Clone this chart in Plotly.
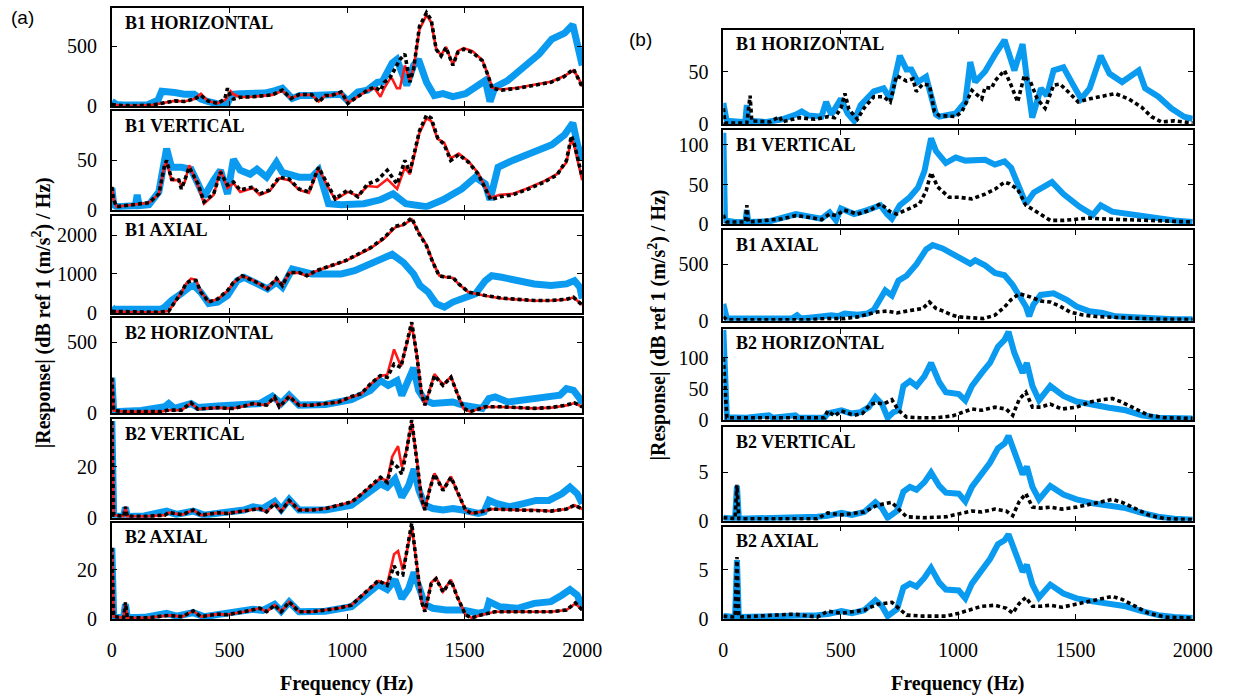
import plotly.graph_objects as go

# ---------------- (a) left column: measured (blue), model (red), model (black dotted)
L1_blue_f = [0, 20, 50, 100, 150, 196, 212, 267, 308, 350, 379, 408, 450, 492, 510, 546, 600, 650, 694, 725, 767, 800, 850, 900, 950, 975, 1004, 1046, 1087, 1129, 1150, 1171, 1192, 1212, 1254, 1283, 1304, 1338, 1371, 1408, 1450, 1504, 1546, 1588, 1608, 1629, 1683, 1750, 1817, 1871, 1925, 1960, 1975, 2000]
L1_blue_v = [40, 15, 10, 10, 12, 50, 125, 115, 100, 100, 60, 40, 20, 25, 100, 105, 105, 110, 130, 150, 65, 90, 90, 90, 95, 100, 45, 120, 135, 200, 205, 300, 360, 390, 175, 340, 390, 200, 90, 105, 80, 105, 160, 215, 40, 160, 215, 325, 435, 560, 610, 680, 560, 340]
L1_f = [0, 40, 100, 171, 212, 267, 308, 350, 379, 408, 450, 480, 492, 505, 517, 546, 600, 650, 683, 725, 762, 796, 850, 879, 908, 933, 975, 1004, 1046, 1087, 1117, 1142, 1158, 1183, 1192, 1212, 1225, 1246, 1267, 1283, 1308, 1338, 1358, 1379, 1400, 1421, 1450, 1471, 1496, 1533, 1575, 1600, 1617, 1658, 1725, 1796, 1867, 1921, 1963, 1983, 2000]
L1_red_v = [15, 6, 5, 10, 25, 45, 40, 60, 105, 45, 25, 50, 80, 125, 100, 75, 80, 90, 95, 130, 65, 95, 95, 40, 90, 90, 115, 30, 80, 130, 150, 80, 150, 230, 230, 150, 150, 340, 210, 320, 640, 760, 700, 480, 425, 495, 345, 460, 485, 460, 385, 260, 155, 140, 155, 180, 205, 250, 300, 240, 165]
L1_black_v = [15, 6, 5, 10, 25, 45, 40, 60, 90, 45, 25, 60, 150, 80, 60, 75, 80, 90, 95, 135, 65, 98, 98, 35, 90, 90, 120, 25, 80, 135, 160, 130, 200, 240, 270, 340, 390, 435, 200, 310, 665, 780, 720, 475, 420, 490, 340, 450, 475, 450, 380, 255, 150, 135, 150, 175, 200, 245, 310, 230, 160]

L2_blue_f = [0, 8, 20, 100, 108, 116, 158, 200, 233, 254, 296, 337, 367, 392, 433, 462, 492, 517, 546, 588, 617, 658, 700, 725, 796, 850, 879, 900, 921, 975, 1071, 1142, 1196, 1250, 1338, 1408, 1488, 1546, 1588, 1608, 1642, 1704, 1788, 1871, 1925, 1960, 1980, 2000]
L2_blue_v = [22, 5, 3, 4, 15, 4, 5, 18, 62, 43, 43, 41, 26, 13, 30, 40, 16, 51, 40, 36, 41, 33, 48, 38, 33, 33, 40, 20, 6, 5, 6, 10, 16, 6, 3, 10, 21, 33, 26, 10, 43, 50, 58, 66, 76, 88, 66, 50]
L2_f = [0, 8, 20, 100, 158, 200, 225, 233, 254, 285, 296, 310, 329, 367, 392, 433, 462, 492, 517, 546, 600, 629, 671, 712, 754, 796, 838, 879, 921, 950, 1004, 1046, 1087, 1129, 1171, 1213, 1246, 1267, 1308, 1338, 1358, 1385, 1413, 1441, 1475, 1517, 1558, 1583, 1611, 1650, 1704, 1771, 1838, 1892, 1933, 1954, 1967, 2000]
L2_red_v = [23, 10, 3, 5, 7, 16, 45, 48, 30, 30, 24, 28, 45, 24, 6, 15, 40, 22, 27, 18, 22, 15, 19, 32, 30, 20, 17, 42, 22, 10, 18, 14, 24, 23, 31, 21, 43, 36, 78, 93, 90, 72, 68, 52, 57, 49, 37, 25, 12, 15, 16, 22, 29, 36, 48, 72, 64, 30]
L2_black_v = [23, 10, 3, 5, 7, 16, 46, 50, 31, 30, 21, 30, 43, 26, 8, 16, 38, 25, 28, 20, 23, 16, 20, 33, 31, 21, 18, 43, 23, 11, 20, 13, 26, 30, 40, 26, 50, 38, 80, 96, 93, 73, 66, 50, 56, 48, 36, 23, 10, 13, 15, 21, 28, 35, 50, 75, 66, 33]

L3_blue_f = [0, 8, 100, 208, 225, 254, 296, 329, 350, 379, 412, 450, 492, 533, 562, 600, 662, 700, 725, 767, 808, 850, 908, 975, 1032, 1100, 1158, 1192, 1240, 1283, 1310, 1345, 1379, 1414, 1450, 1492, 1546, 1588, 1615, 1658, 1725, 1796, 1867, 1933, 1967, 1990, 2000]
L3_blue_v = [150, 95, 95, 95, 150, 320, 500, 660, 700, 525, 245, 280, 450, 830, 915, 790, 620, 790, 660, 1125, 1085, 1000, 1000, 1000, 1085, 1255, 1420, 1505, 1295, 1000, 705, 535, 240, 150, 280, 365, 490, 830, 955, 915, 830, 745, 705, 745, 830, 660, 370]
L3_f = [0, 100, 200, 242, 267, 296, 317, 337, 358, 379, 412, 450, 492, 517, 554, 587, 629, 662, 700, 725, 754, 796, 829, 867, 908, 950, 992, 1033, 1100, 1158, 1204, 1240, 1275, 1304, 1338, 1365, 1392, 1421, 1450, 1475, 1517, 1588, 1658, 1725, 1796, 1867, 1933, 1963, 1983, 2000]
L3_red_v = [40, 20, 20, 50, 270, 520, 760, 880, 850, 540, 285, 350, 570, 770, 950, 880, 740, 610, 880, 700, 1030, 1030, 950, 1070, 1160, 1250, 1330, 1450, 1660, 1910, 2190, 2260, 2400, 2080, 1740, 1310, 960, 920, 900, 740, 530, 440, 370, 345, 315, 320, 345, 400, 290, 210]
L3_black_v = [40, 20, 20, 50, 280, 530, 770, 830, 830, 530, 280, 360, 575, 780, 955, 870, 750, 620, 890, 700, 1040, 1040, 955, 1080, 1170, 1260, 1340, 1465, 1675, 1930, 2225, 2270, 2440, 2055, 1720, 1295, 955, 915, 915, 745, 535, 450, 380, 350, 320, 320, 350, 405, 280, 200]

L4_blue_f = [0, 8, 125, 225, 242, 267, 337, 365, 450, 517, 575, 629, 683, 720, 754, 796, 908, 1019, 1100, 1142, 1175, 1213, 1233, 1262, 1283, 1304, 1331, 1365, 1408, 1450, 1492, 1546, 1575, 1603, 1630, 1683, 1738, 1796, 1850, 1905, 1933, 1963, 1990, 2000]
L4_blue_v = [250, 12, 20, 46, 69, 35, 69, 41, 51, 58, 74, 69, 120, 69, 127, 58, 62, 97, 161, 230, 196, 230, 126, 230, 320, 161, 92, 69, 69, 80, 58, 41, 35, 104, 115, 80, 92, 115, 115, 127, 173, 161, 104, 69]
L4_f = [0, 8, 50, 150, 208, 242, 296, 337, 365, 408, 450, 492, 517, 562, 600, 658, 692, 712, 754, 796, 850, 908, 963, 1019, 1060, 1100, 1142, 1171, 1200, 1229, 1254, 1275, 1296, 1317, 1331, 1352, 1372, 1408, 1442, 1469, 1496, 1524, 1588, 1658, 1725, 1796, 1867, 1933, 1967, 2000]
L4_red_v = [250, 20, 12, 12, 12, 22, 23, 72, 30, 35, 40, 35, 36, 50, 68, 57, 112, 46, 120, 57, 57, 68, 78, 115, 136, 205, 262, 270, 449, 330, 480, 620, 420, 140, 55, 165, 275, 200, 258, 140, 33, 12, 45, 45, 40, 35, 40, 56, 72, 45]
L4_black_v = [250, 20, 12, 12, 12, 23, 23, 74, 30, 35, 41, 35, 35, 51, 69, 58, 115, 46, 118, 58, 58, 69, 80, 118, 138, 207, 265, 253, 346, 323, 484, 640, 415, 138, 58, 161, 265, 196, 253, 138, 35, 12, 46, 46, 41, 35, 41, 58, 74, 46]

L5_blue_f = [0, 8, 50, 58, 66, 138, 233, 275, 346, 392, 462, 562, 600, 642, 692, 720, 754, 796, 908, 1019, 1046, 1100, 1142, 1171, 1204, 1233, 1262, 1285, 1306, 1331, 1365, 1408, 1450, 1492, 1558, 1583, 1604, 1638, 1692, 1750, 1804, 1858, 1913, 1948, 1979, 2000]
L5_blue_v = [38, 0.7, 0.5, 4, 0.5, 0.7, 2.6, 1.3, 2.6, 1, 1.9, 3, 4.3, 3.6, 6.4, 3.2, 7.2, 3, 3, 4.9, 6.8, 10.7, 13.3, 12, 15.2, 8.1, 12.6, 19.1, 10.7, 4.9, 3.6, 3, 3.6, 3, 1.7, 2.3, 6.8, 5.5, 4.3, 5.5, 6.8, 6.8, 9.4, 12, 9.4, 5.5]
L5_f = [0, 8, 50, 58, 66, 150, 225, 242, 300, 346, 379, 450, 492, 562, 629, 658, 692, 720, 754, 796, 850, 908, 963, 1019, 1046, 1100, 1142, 1171, 1192, 1217, 1233, 1254, 1275, 1296, 1317, 1331, 1352, 1372, 1408, 1442, 1469, 1504, 1530, 1571, 1613, 1725, 1796, 1867, 1933, 1967, 2000]
L5_red_v = [38, 1, 0.5, 4.3, 0.5, 0.5, 1, 2, 1.2, 3, 1, 1.9, 1.7, 2.6, 3.6, 2.3, 5.5, 2.6, 6.8, 3, 3, 3.6, 4.9, 6.2, 8, 12.4, 15.5, 14.5, 24, 28.1, 20, 27, 37.5, 23.5, 7.5, 3, 11.6, 17.4, 11, 16.2, 10, 3, 1.7, 2.3, 3.4, 3, 3, 2.6, 3.4, 4.9, 3.4]
L5_black_v = [38, 1, 0.5, 4.3, 0.5, 0.5, 1, 2, 1.2, 3, 1, 1.9, 1.7, 2.6, 3.6, 2.3, 5.5, 2.6, 6.8, 3, 3, 3.6, 4.9, 6.2, 8, 12.6, 15.9, 13.9, 21.7, 19.7, 17.1, 26.8, 38.4, 23, 7.5, 3, 11.3, 17.1, 10.7, 15.9, 10, 3, 1.7, 2.3, 3.4, 3, 3, 2.6, 3.4, 4.9, 3.4]

L6_blue_f = [0, 8, 50, 58, 66, 138, 233, 275, 346, 392, 462, 562, 600, 642, 692, 720, 754, 796, 908, 1019, 1046, 1100, 1133, 1171, 1204, 1233, 1262, 1285, 1306, 1331, 1365, 1421, 1492, 1558, 1592, 1604, 1650, 1725, 1796, 1867, 1913, 1948, 1979, 2000]
L6_blue_v = [29, 0.7, 0.5, 6, 0.5, 0.7, 2.3, 1.2, 2.6, 1, 2, 3, 4, 3.5, 6, 3.2, 7, 3, 3.2, 5, 7.1, 11, 14, 12, 16, 8.4, 12.4, 19, 12, 6, 4.4, 3.7, 3.7, 2.4, 3, 7.1, 5, 4.4, 6.4, 7.1, 9.7, 12, 9.7, 5]
L6_f = [0, 8, 50, 58, 66, 150, 242, 300, 346, 379, 450, 492, 562, 629, 658, 692, 720, 754, 796, 850, 908, 963, 1019, 1046, 1100, 1133, 1171, 1200, 1217, 1237, 1254, 1275, 1296, 1317, 1331, 1358, 1379, 1408, 1442, 1469, 1504, 1530, 1571, 1629, 1725, 1796, 1867, 1933, 1971, 2000]
L6_red_v = [29, 1, 0.5, 6.8, 0.5, 0.5, 1.5, 1, 3.3, 1, 2, 1.8, 3, 4.4, 3, 5.7, 3, 7, 3, 3, 3.7, 4.4, 5.7, 8, 12.8, 15.5, 14.3, 26.4, 27.7, 20, 27.2, 37.8, 22.8, 7, 3, 14.8, 16.8, 11.2, 16, 9, 1.7, 0.5, 1.7, 3, 3, 3, 3, 3.7, 6.4, 3.6]
L6_black_v = [29, 1, 0.5, 6.8, 0.5, 0.5, 1.5, 1, 3.3, 1, 2, 1.8, 3, 4.4, 3, 5.7, 3, 7, 3, 3, 3.7, 4.4, 5.7, 8, 13, 15.7, 13.7, 21.7, 18.4, 18, 27.7, 39, 22.4, 7, 3, 14.4, 16.4, 11, 15.7, 9, 1.7, 0.5, 1.7, 3, 3, 3, 3, 3.7, 6.6, 3.7]

# ---------------- (b) right column: measured (blue), model (black dotted)
R1_blue_f = [0, 14, 84, 94, 100, 106, 184, 251, 309, 334, 363, 418, 438, 460, 501, 515, 530, 557, 585, 641, 683, 711, 738, 752, 780, 801, 829, 864, 885, 906, 920, 990, 1031, 1052, 1073, 1115, 1157, 1198, 1240, 1275, 1295, 1316, 1353, 1378, 1407, 1449, 1491, 1524, 1561, 1608, 1645, 1699, 1770, 1797, 1854, 1908, 1963, 2000]
R1_blue_v = [20, 3, 2, 3, 18, 3, 2, 4.5, 9, 12, 8, 7, 21, 9, 24, 18, 10, 3, 18, 31, 34, 24, 49, 65, 52, 52, 40, 45, 27, 9, 7, 10, 21, 59, 40, 50, 66, 80, 51, 76, 40, 6, 34, 27, 51, 54, 37, 24, 34, 65, 48, 40, 51, 34, 26, 15, 7, 5]
R1_black_f = [0, 7, 100, 114, 121, 198, 240, 250, 323, 390, 446, 474, 501, 518, 535, 571, 599, 641, 683, 711, 738, 780, 808, 822, 850, 878, 899, 920, 990, 1017, 1059, 1101, 1115, 1143, 1157, 1198, 1226, 1254, 1282, 1309, 1337, 1371, 1407, 1435, 1477, 1512, 1561, 1601, 1670, 1726, 1782, 1824, 1866, 1921, 2000]
R1_black_v = [15, 1, 1, 27, 3, 2, 7, 2, 6, 4.5, 7, 6, 15, 29, 14, 4.5, 15, 26, 26, 21, 46, 41, 43, 31, 38, 37, 12, 8, 7, 12, 32, 24, 35, 34, 41, 51, 37, 21, 46, 40, 24, 15, 37, 38, 29, 21, 24, 26, 29, 24, 16, 7, 2, 3, 1]

R2_blue_f = [0, 7, 50, 94, 100, 106, 198, 251, 309, 363, 418, 453, 480, 501, 557, 613, 669, 697, 718, 752, 794, 829, 857, 885, 906, 948, 990, 1031, 1087, 1115, 1157, 1198, 1226, 1254, 1289, 1323, 1365, 1400, 1449, 1518, 1574, 1608, 1657, 1740, 1838, 1921, 2000]
R2_blue_v = [115, 5, 3, 3, 18, 3, 4, 9, 13, 10, 7, 15, 5, 20, 13, 18, 24, 13, 7, 24, 34, 46, 67, 108, 92, 77, 84, 80, 80, 81, 75, 79, 71, 51, 26, 40, 46, 53, 38, 22, 12, 24, 16, 12, 8, 5, 3]
R2_black_f = [0, 7, 14, 94, 100, 106, 251, 309, 363, 418, 453, 480, 515, 571, 627, 669, 711, 738, 794, 836, 864, 885, 913, 962, 1004, 1059, 1115, 1157, 1198, 1219, 1254, 1289, 1323, 1358, 1393, 1449, 1505, 1561, 1601, 1670, 1740, 1810, 2000]
R2_black_v = [12, 5, 3, 3, 24, 3, 7, 11, 9, 6, 13, 11, 18, 13, 18, 26, 16, 13, 20, 26, 42, 65, 47, 34, 34, 32, 38, 44, 53, 51, 44, 24, 18, 12, 5, 5, 7, 8, 7, 6, 6, 5, 3]

R3_blue_f = [0, 15, 99, 293, 314, 330, 377, 461, 489, 516, 572, 614, 642, 669, 690, 718, 746, 781, 823, 864, 892, 934, 976, 1003, 1052, 1073, 1115, 1157, 1198, 1233, 1261, 1289, 1303, 1321, 1352, 1407, 1463, 1505, 1560, 1616, 1671, 1755, 1853, 1922, 2000]
R3_blue_v = [150, 20, 20, 20, 50, 20, 30, 50, 40, 65, 55, 65, 100, 195, 268, 224, 355, 399, 500, 631, 669, 640, 587, 563, 505, 535, 490, 423, 403, 316, 229, 127, 40, 142, 229, 244, 186, 127, 84, 70, 40, 26, 20, 14, 14]
R3_black_f = [0, 15, 377, 405, 461, 516, 572, 614, 655, 697, 739, 781, 823, 850, 878, 906, 934, 976, 1003, 1059, 1108, 1157, 1198, 1226, 1261, 1310, 1352, 1393, 1435, 1477, 1532, 1588, 1671, 1755, 1853, 2000]
R3_black_v = [35, 10, 10, 18, 20, 20, 35, 56, 78, 86, 70, 86, 96, 110, 166, 110, 88, 50, 35, 30, 20, 50, 122, 187, 240, 210, 175, 166, 128, 78, 52, 38, 30, 25, 15, 12]

R4_blue_f = [0, 15, 99, 194, 210, 307, 320, 431, 445, 503, 544, 585, 620, 648, 676, 700, 725, 746, 767, 795, 823, 857, 885, 920, 948, 1003, 1031, 1059, 1101, 1136, 1170, 1198, 1215, 1240, 1275, 1293, 1317, 1345, 1393, 1449, 1505, 1574, 1644, 1714, 1783, 1853, 2000]
R4_blue_v = [145, 5, 4, 8, 4, 8, 4, 4, 11, 16, 11, 13, 21, 37, 26, 4, 13, 16, 55, 63, 55, 71, 92, 61, 45, 42, 32, 55, 76, 92, 118, 129, 142, 108, 76, 92, 55, 32, 55, 39, 30, 24, 20, 16, 8, 4, 3]
R4_black_f = [0, 15, 431, 445, 474, 503, 558, 593, 627, 655, 683, 718, 746, 781, 836, 906, 976, 1003, 1059, 1101, 1157, 1205, 1233, 1261, 1289, 1317, 1352, 1393, 1442, 1505, 1560, 1616, 1657, 1699, 1755, 1811, 1881, 2000]
R4_black_v = [100, 4, 4, 15, 7, 15, 8, 11, 26, 28, 26, 33, 16, 5, 4, 4, 7, 11, 18, 16, 21, 18, 8, 34, 45, 21, 21, 26, 18, 21, 29, 33, 35, 29, 18, 8, 4, 3]

R5_blue_f = [0, 50, 58, 66, 400, 445, 503, 548, 600, 648, 676, 700, 740, 767, 795, 823, 857, 885, 920, 948, 1003, 1031, 1059, 1101, 1136, 1170, 1198, 1215, 1240, 1275, 1293, 1317, 1345, 1393, 1449, 1505, 1574, 1644, 1714, 1783, 1853, 1922, 2000]
R5_blue_v = [0.3, 0.2, 3.6, 0.2, 0.4, 0.5, 0.8, 0.6, 0.9, 1.9, 1.3, 0.3, 1.0, 3.0, 3.5, 3.2, 4.0, 5.0, 3.6, 2.9, 2.8, 2.0, 3.5, 5.0, 6.0, 7.5, 8.0, 8.8, 7.0, 4.8, 5.6, 3.5, 2.2, 3.6, 2.7, 2.2, 1.8, 1.6, 1.3, 0.8, 0.4, 0.2, 0.1]
R5_black_f = [0, 50, 58, 66, 400, 445, 503, 600, 655, 718, 746, 781, 850, 950, 1003, 1059, 1101, 1157, 1205, 1233, 1261, 1289, 1317, 1352, 1393, 1442, 1505, 1560, 1616, 1657, 1699, 1755, 1811, 1881, 2000]
R5_black_v = [0.3, 0.2, 3.7, 0.2, 0.2, 0.8, 0.6, 0.9, 1.6, 1.9, 1.2, 0.4, 0.3, 0.4, 0.7, 1.0, 0.9, 1.2, 1.0, 0.5, 2.0, 2.8, 1.4, 1.3, 1.4, 1.2, 1.4, 1.7, 2.0, 2.2, 1.9, 1.2, 0.6, 0.2, 0.1]

R6_blue_f = [0, 50, 58, 66, 400, 445, 503, 548, 600, 648, 676, 700, 740, 767, 795, 823, 857, 885, 920, 948, 1003, 1031, 1059, 1101, 1136, 1170, 1198, 1215, 1240, 1275, 1293, 1317, 1345, 1393, 1449, 1505, 1574, 1644, 1714, 1783, 1853, 1922, 2000]
R6_blue_v = [0.3, 0.2, 6.0, 0.2, 0.4, 0.5, 0.8, 0.6, 0.9, 1.9, 1.3, 0.3, 1.0, 3.2, 3.6, 3.3, 4.2, 5.2, 3.7, 3.0, 2.9, 2.1, 3.6, 5.1, 6.1, 7.6, 8.0, 8.6, 7.0, 4.8, 5.5, 3.5, 2.2, 3.5, 2.6, 2.1, 1.8, 1.6, 1.3, 0.8, 0.4, 0.2, 0.1]
R6_black_f = [0, 50, 58, 66, 300, 400, 445, 503, 600, 655, 718, 746, 781, 850, 950, 1003, 1059, 1101, 1157, 1205, 1233, 1261, 1289, 1317, 1352, 1393, 1442, 1505, 1560, 1616, 1657, 1699, 1755, 1811, 1881, 2000]
R6_black_v = [0.3, 0.2, 6.3, 0.2, 0.5, 0.2, 0.8, 0.6, 0.9, 1.5, 1.7, 1.1, 0.4, 0.3, 0.3, 0.6, 1.0, 1.3, 1.4, 1.1, 0.6, 1.6, 2.2, 1.3, 1.3, 1.4, 1.2, 1.5, 1.8, 2.1, 2.3, 2.0, 1.3, 0.6, 0.2, 0.1]

left_titles = ["B1 HORIZONTAL", "B1 VERTICAL", "B1 AXIAL", "B2 HORIZONTAL", "B2 VERTICAL", "B2 AXIAL"]
right_titles = left_titles

left_ymax = [820, 100, 2500, 670, 38.7, 39.3]
right_ymax = [90, 118.5, 800, 147, 9.7, 9.4]
left_yticks = [[0, 500], [0, 50], [0, 1000, 2000], [0, 500], [0, 20], [0, 20]]
right_yticks = [[0, 50], [0, 50, 100], [0, 500], [0, 50, 100], [0, 5], [0, 5]]
x_ticks = [0, 500, 1000, 1500, 2000]

left_panels = [
    (L1_blue_f, L1_blue_v, L1_f, L1_red_v, L1_f, L1_black_v),
    (L2_blue_f, L2_blue_v, L2_f, L2_red_v, L2_f, L2_black_v),
    (L3_blue_f, L3_blue_v, L3_f, L3_red_v, L3_f, L3_black_v),
    (L4_blue_f, L4_blue_v, L4_f, L4_red_v, L4_f, L4_black_v),
    (L5_blue_f, L5_blue_v, L5_f, L5_red_v, L5_f, L5_black_v),
    (L6_blue_f, L6_blue_v, L6_f, L6_red_v, L6_f, L6_black_v),
]
right_panels = [
    (R1_blue_f, R1_blue_v, None, None, R1_black_f, R1_black_v),
    (R2_blue_f, R2_blue_v, None, None, R2_black_f, R2_black_v),
    (R3_blue_f, R3_blue_v, None, None, R3_black_f, R3_black_v),
    (R4_blue_f, R4_blue_v, None, None, R4_black_f, R4_black_v),
    (R5_blue_f, R5_blue_v, None, None, R5_black_f, R5_black_v),
    (R6_blue_f, R6_blue_v, None, None, R6_black_f, R6_black_v),
]

# ---------------- geometry (pixels of the 1250 x 696 page)
W, H = 1250, 696
left_x = (109, 589)
right_x = (733, 1212)
left_rows = [(8, 108), (113, 213), (219, 318), (323, 420), (426, 526), (531, 629)]
right_rows = [(30, 126), (132, 228), (234, 326), (334, 427), (434, 529), (535, 629)]

SERIF = "Liberation Serif"
BLUE = "#0A9BF0"
RED = "#FF1A1A"

def px_x(p):
    return p / W

def px_y(p):
    return 1 - p / H

fig = go.Figure()
layout = {}
annotations = []

def add_panel(idx, xpx, rows_px, data, ymax, yticks, title, blue_w, bottom):
    top, bot = rows_px
    xa = "xaxis" if idx == 1 else f"xaxis{idx}"
    ya = "yaxis" if idx == 1 else f"yaxis{idx}"
    xr = "x" if idx == 1 else f"x{idx}"
    yr = "y" if idx == 1 else f"y{idx}"
    bf, bv, rf, rv, kf, kv = data
    fig.add_trace(go.Scatter(x=bf, y=bv, mode="lines", xaxis=xr, yaxis=yr,
                             line=dict(color=BLUE, width=blue_w), showlegend=False))
    if rf is not None:
        fig.add_trace(go.Scatter(x=rf, y=rv, mode="lines", xaxis=xr, yaxis=yr,
                                 line=dict(color=RED, width=2.6), showlegend=False))
    fig.add_trace(go.Scatter(x=kf, y=kv, mode="lines", xaxis=xr, yaxis=yr,
                             line=dict(color="black", width=3.6, dash="4px,3px"),
                             showlegend=False))
    common = dict(showline=True, linecolor="black", linewidth=1.8, mirror="ticks",
                  ticks="inside", ticklen=5, tickwidth=1.2, tickcolor="black",
                  showgrid=False, zeroline=False,
                  tickfont=dict(family=SERIF, size=20, color="black"))
    layout[xa] = dict(common, domain=[px_x(xpx[0]), px_x(xpx[1])], anchor=yr,
                      range=[0, 2000], tickvals=x_ticks, showticklabels=bottom,
                      ticklabelstandoff=12)
    layout[ya] = dict(common, domain=[px_y(bot), px_y(top)], anchor=xr,
                      range=[0, ymax], tickvals=yticks, ticklabelstandoff=9)
    annotations.append(dict(text=f"<b>{title}</b>", x=px_x(xpx[0] + 11), y=px_y(top + 15),
                            xref="paper", yref="paper", xanchor="left", yanchor="middle",
                            showarrow=False, font=dict(family=SERIF, size=18, color="black")))

for i in range(6):
    add_panel(i + 1, left_x, left_rows[i], left_panels[i], left_ymax[i], left_yticks[i],
              left_titles[i], 7, i == 5)
for i in range(6):
    add_panel(i + 7, right_x, right_rows[i], right_panels[i], right_ymax[i], right_yticks[i],
              right_titles[i], 6, i == 5)

ylabel = "<b>|Response| (dB ref 1 (m/s<sup>2</sup>) / Hz)</b>"
annotations += [
    dict(text="(a)", x=px_x(18), y=px_y(18), xref="paper", yref="paper", showarrow=False,
         xanchor="center", yanchor="middle", font=dict(family="Liberation Sans", size=19, color="black")),
    dict(text="(b)", x=px_x(648), y=px_y(40), xref="paper", yref="paper", showarrow=False,
         xanchor="center", yanchor="middle", font=dict(family="Liberation Sans", size=19, color="black")),
    dict(text=ylabel, x=px_x(38), y=px_y(318), xref="paper", yref="paper", showarrow=False,
         textangle=-90, xanchor="center", yanchor="middle",
         font=dict(family=SERIF, size=20, color="black")),
    dict(text=ylabel, x=px_x(666), y=px_y(330), xref="paper", yref="paper", showarrow=False,
         textangle=-90, xanchor="center", yanchor="middle",
         font=dict(family=SERIF, size=20, color="black")),
    dict(text="<b>Frequency (Hz)</b>", x=px_x(349), y=px_y(694), xref="paper", yref="paper",
         showarrow=False, xanchor="center", yanchor="middle",
         font=dict(family=SERIF, size=20, color="black")),
    dict(text="<b>Frequency (Hz)</b>", x=px_x(972), y=px_y(694), xref="paper", yref="paper",
         showarrow=False, xanchor="center", yanchor="middle",
         font=dict(family=SERIF, size=20, color="black")),
]

fig.update_layout(width=W, height=H, margin=dict(l=0, r=0, t=0, b=0),
                  paper_bgcolor="white", plot_bgcolor="white",
                  annotations=annotations, **layout)
fig.write_html("out.html")
